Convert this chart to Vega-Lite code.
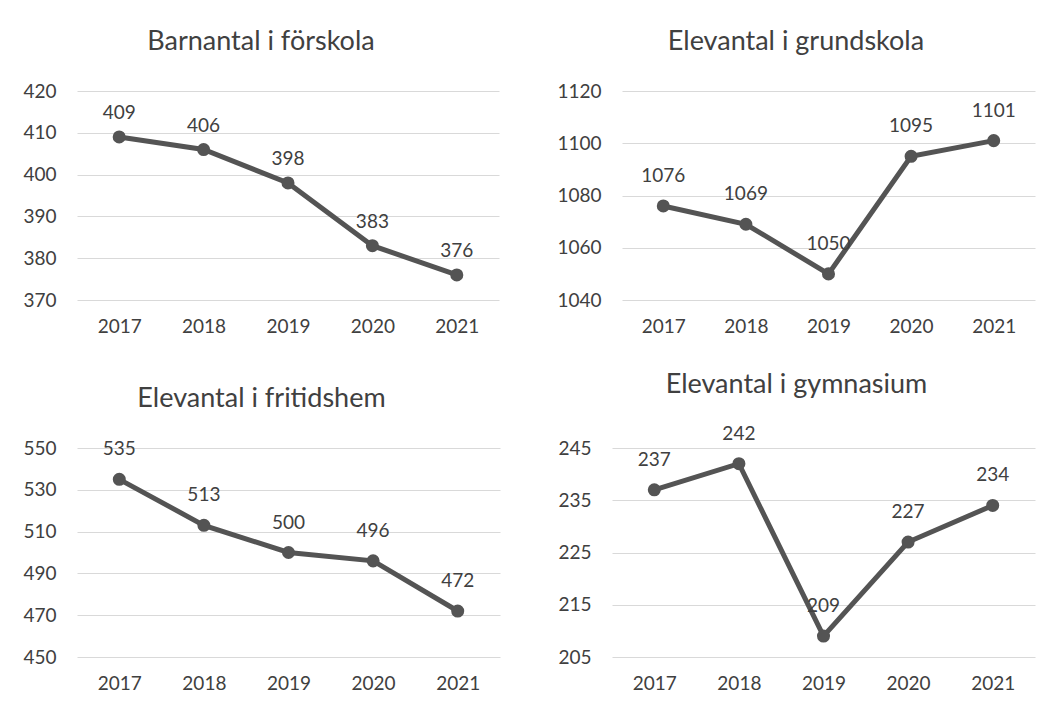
{
  "$schema": "https://vega.github.io/schema/vega-lite/v6.json",
  "background": "white",
  "padding": {"left": 22, "top": 28, "right": 5, "bottom": 5},
  "config": {
    "view": {"stroke": null},
    "font": "Lato",
    "title": {"font": "Lato", "fontSize": 27, "fontWeight": "normal", "color": "#404040", "offset": 26, "frame": "bounds", "anchor": "middle"},
    "axis": {"labelFont": "Lato", "labelFontSize": 19, "labelColor": "#404040", "domain": false, "ticks": false, "title": null, "format": "d"},
    "axisX": {"grid": false, "labelAngle": 0, "labelPadding": 17},
    "axisY": {"grid": true, "gridColor": "#d9d9d9", "gridWidth": 1, "labelPadding": 21}
  },
  "data": {"values": [
    {"panel": "p1", "year": "2017", "value": 409},
    {"panel": "p1", "year": "2018", "value": 406},
    {"panel": "p1", "year": "2019", "value": 398},
    {"panel": "p1", "year": "2020", "value": 383},
    {"panel": "p1", "year": "2021", "value": 376},
    {"panel": "p2", "year": "2017", "value": 1076},
    {"panel": "p2", "year": "2018", "value": 1069},
    {"panel": "p2", "year": "2019", "value": 1050},
    {"panel": "p2", "year": "2020", "value": 1095},
    {"panel": "p2", "year": "2021", "value": 1101},
    {"panel": "p3", "year": "2017", "value": 535},
    {"panel": "p3", "year": "2018", "value": 513},
    {"panel": "p3", "year": "2019", "value": 500},
    {"panel": "p3", "year": "2020", "value": 496},
    {"panel": "p3", "year": "2021", "value": 472},
    {"panel": "p4", "year": "2017", "value": 237},
    {"panel": "p4", "year": "2018", "value": 242},
    {"panel": "p4", "year": "2019", "value": 209},
    {"panel": "p4", "year": "2020", "value": 227},
    {"panel": "p4", "year": "2021", "value": 234}
  ]},
  "spacing": 34,
  "vconcat": [
    {
      "spacing": 57,
      "hconcat": [
        {
          "width": 422, "height": 209,
          "title": "Barnantal i förskola",
          "transform": [{"filter": "datum.panel === 'p1'"}],
          "encoding": {
            "x": {"field": "year", "type": "ordinal"},
            "y": {"field": "value", "type": "quantitative", "scale": {"domain": [370, 420], "zero": false, "nice": false}, "axis": {"values": [370, 380, 390, 400, 410, 420]}}
          },
          "layer": [
            {"mark": {"type": "line", "color": "#545454", "strokeWidth": 5}},
            {"mark": {"type": "point", "filled": true, "size": 170, "color": "#545454", "opacity": 1}},
            {"mark": {"type": "text", "dy": -24, "fontSize": 19, "font": "Lato", "color": "#404040"}, "encoding": {"text": {"field": "value", "type": "quantitative", "format": "d"}}}
          ]
        },
        {
          "width": 413, "height": 209,
          "title": "Elevantal i grundskola",
          "transform": [{"filter": "datum.panel === 'p2'"}],
          "encoding": {
            "x": {"field": "year", "type": "ordinal"},
            "y": {"field": "value", "type": "quantitative", "scale": {"domain": [1040, 1120], "zero": false, "nice": false}, "axis": {"values": [1040, 1060, 1080, 1100, 1120]}}
          },
          "layer": [
            {"mark": {"type": "line", "color": "#545454", "strokeWidth": 5}},
            {"mark": {"type": "point", "filled": true, "size": 170, "color": "#545454", "opacity": 1}},
            {"mark": {"type": "text", "dy": -30, "fontSize": 19, "font": "Lato", "color": "#404040"}, "encoding": {"text": {"field": "value", "type": "quantitative", "format": "d"}}}
          ]
        }
      ]
    },
    {
      "spacing": 57,
      "hconcat": [
        {
          "width": 423, "height": 209,
          "title": "Elevantal i fritidshem",
          "transform": [{"filter": "datum.panel === 'p3'"}],
          "encoding": {
            "x": {"field": "year", "type": "ordinal"},
            "y": {"field": "value", "type": "quantitative", "scale": {"domain": [450, 550], "zero": false, "nice": false}, "axis": {"values": [450, 470, 490, 510, 530, 550]}}
          },
          "layer": [
            {"mark": {"type": "line", "color": "#545454", "strokeWidth": 5}},
            {"mark": {"type": "point", "filled": true, "size": 170, "color": "#545454", "opacity": 1}},
            {"mark": {"type": "text", "dy": -30, "fontSize": 19, "font": "Lato", "color": "#404040"}, "encoding": {"text": {"field": "value", "type": "quantitative", "format": "d"}}}
          ]
        },
        {
          "width": 423, "height": 209,
          "title": "Elevantal i gymnasium",
          "transform": [{"filter": "datum.panel === 'p4'"}],
          "encoding": {
            "x": {"field": "year", "type": "ordinal"},
            "y": {"field": "value", "type": "quantitative", "scale": {"domain": [205, 245], "zero": false, "nice": false}, "axis": {"values": [205, 215, 225, 235, 245]}}
          },
          "layer": [
            {"mark": {"type": "line", "color": "#545454", "strokeWidth": 5}},
            {"mark": {"type": "point", "filled": true, "size": 170, "color": "#545454", "opacity": 1}},
            {"mark": {"type": "text", "dy": -30, "fontSize": 19, "font": "Lato", "color": "#404040"}, "encoding": {"text": {"field": "value", "type": "quantitative", "format": "d"}}}
          ]
        }
      ]
    }
  ]
}
